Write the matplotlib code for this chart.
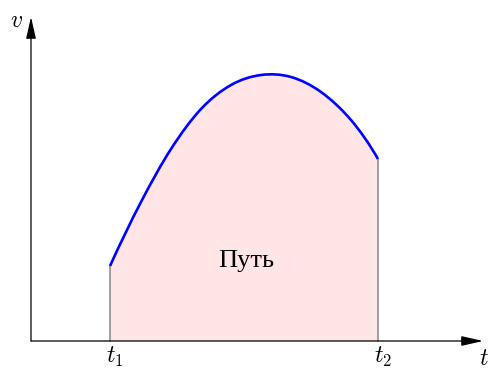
import numpy as np
import matplotlib.pyplot as plt
from matplotlib.path import Path
from matplotlib.patches import PathPatch

plt.rcParams['mathtext.fontset'] = 'cm'

# скорость v(t) на отрезке [t1, t2]
t = [0.79, 1.10, 1.40, 1.70, 2.00, 2.30, 2.60, 2.90, 3.20, 3.47]
v = [0.75, 1.39, 1.92, 2.32, 2.56, 2.66, 2.64, 2.49, 2.21, 1.82]
t1, t2 = t[0], t[-1]
t_max, v_max = 4.52, 3.24


def smooth_path(xs, ys):
    # кривая Катмулла-Рома через узлы, записанная кубическими сегментами Безье
    p = np.column_stack([xs, ys]).astype(float)
    first = 3 * p[0] - 3 * p[1] + p[2]
    last = 3 * p[-1] - 3 * p[-2] + p[-3]
    q = np.vstack([first, p, last])
    verts = [tuple(p[0])]
    codes = [Path.MOVETO]
    for i in range(1, len(q) - 2):
        c1 = q[i] + (q[i + 1] - q[i - 1]) / 6
        c2 = q[i + 1] - (q[i + 2] - q[i]) / 6
        verts += [tuple(c1), tuple(c2), tuple(q[i + 1])]
        codes += [Path.CURVE4] * 3
    return verts, codes


verts, codes = smooth_path(t, v)

fig = plt.figure(figsize=(4.89, 3.69), dpi=100)
ax = fig.add_axes([0, 0, 1, 1])
ax.set_xlim(-0.31, 4.58)
ax.set_ylim(-0.28, 3.41)
ax.axis('off')

# площадь под графиком
area = Path([(t1, 0)] + verts + [(t2, 0), (t1, 0)],
            [Path.MOVETO, Path.LINETO] + codes[1:] + [Path.LINETO, Path.CLOSEPOLY])
ax.add_patch(PathPatch(area, facecolor='#ffe5e5', lw=0, zorder=1))
ax.plot([t1, t1], [0, v[0]], color='#888888', lw=1.1, zorder=2)
ax.plot([t2, t2], [0, v[-1]], color='#888888', lw=1.1, zorder=2)
ax.add_patch(PathPatch(Path(verts, codes), facecolor='none', edgecolor='blue',
                       lw=1.9, capstyle='butt', zorder=3))

# оси со стрелками
arrow = dict(arrowstyle='-|>,head_length=1.1,head_width=0.25', color='black',
             lw=0.9, shrinkA=0, shrinkB=0, mutation_scale=12)
ax.annotate('', xy=(t_max, 0), xytext=(0, 0), arrowprops=arrow, zorder=4)
ax.annotate('', xy=(0, v_max), xytext=(0, 0), arrowprops=arrow, zorder=4)

ax.text(-0.15, 3.21, '$v$', fontsize=17, ha='center', va='center')
ax.text(4.53, -0.17, '$t$', fontsize=17, ha='center', va='center')
ax.text(t1 + 0.05, -0.16, '$t_1$', fontsize=17, ha='center', va='center')
ax.text(t2 + 0.05, -0.16, '$t_2$', fontsize=17, ha='center', va='center')
ax.text(2.15, 0.8, 'Путь', fontsize=19, family='Liberation Serif',
        ha='center', va='center')

fig.savefig('out.png', dpi=100)
